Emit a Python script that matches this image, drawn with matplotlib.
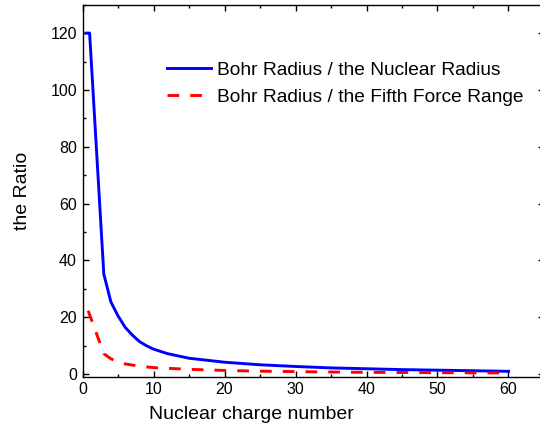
import matplotlib
matplotlib.use("Agg")
import matplotlib.pyplot as plt
from matplotlib.ticker import MultipleLocator

plt.rcParams['font.family'] = ['Liberation Sans', 'DejaVu Sans']

# 读图估计的数据
z_nuc = [0.5, 1, 3, 4, 5, 6, 7, 8, 9, 10, 12, 15, 20, 25, 30, 35, 40, 45, 50, 55, 60]
ratio_nuc = [120, 120, 35.2, 25.4, 20.5, 16.5, 13.8, 11.5, 10.0, 8.8, 7.2, 5.6, 4.2, 3.3,
             2.7, 2.2, 1.9, 1.6, 1.4, 1.2, 1.0]

z_fifth = [0.8, 3, 4, 5, 6, 8, 10, 15, 20, 25, 30, 35, 40, 45, 50, 55, 60]
ratio_fifth = [22.3, 7.2, 5.4, 4.4, 3.6, 2.8, 2.3, 1.7, 1.3, 1.05, 0.9, 0.75, 0.65, 0.58,
               0.52, 0.47, 0.43]

label_nuc = "Bohr Radius / the Nuclear Radius"
label_fifth = "Bohr Radius / the Fifth Force Range"

fig = plt.figure(figsize=(5.4, 4.34), dpi=100)
# 右边框在图外（原图被裁切）
ax = fig.add_axes([0.1528, 0.1320, 0.8546, 0.8572])

ax.plot(z_nuc, ratio_nuc, color='#0000FF', lw=2.1, label=label_nuc)
ax.plot(z_fifth, ratio_fifth, color='#FF0000', lw=2.1, dashes=(4, 3.8), label=label_fifth)

ax.set_xlim(0, 65)
ax.set_ylim(-0.9, 130)
ax.xaxis.set_major_locator(MultipleLocator(10))
ax.xaxis.set_minor_locator(MultipleLocator(5))
ax.yaxis.set_major_locator(MultipleLocator(20))
ax.yaxis.set_minor_locator(MultipleLocator(10))
ax.tick_params(which='both', direction='in', top=True, right=True, labelsize=11.5, width=1)
ax.tick_params(which='major', length=4.1, pad=4)
ax.tick_params(which='minor', length=2.4)
for s in ax.spines.values():
    s.set_linewidth(1)

ax.set_xlabel("Nuclear charge number", fontsize=14)
ax.xaxis.set_label_coords(0.365, -0.080)
ax.set_ylabel("the Ratio", fontsize=14, labelpad=14)

ax.legend(loc='upper left', bbox_to_anchor=(0.309, 0.858), bbox_transform=fig.transFigure,
          frameon=False, fontsize=13.8, borderpad=0, borderaxespad=0,
          handlelength=2.3, handletextpad=0.31, labelspacing=0.5)

fig.savefig("out.png", dpi=100)
